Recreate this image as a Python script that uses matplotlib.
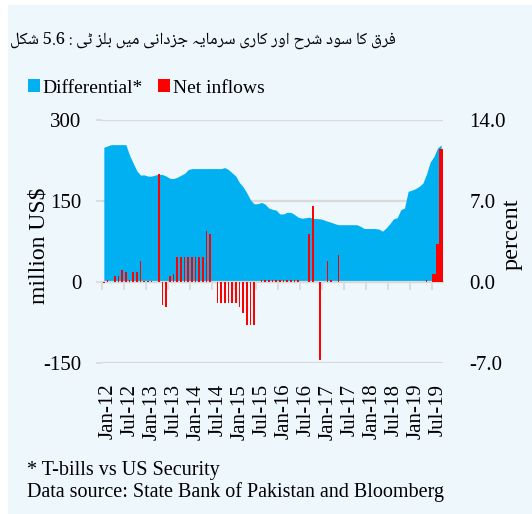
import numpy as np
import matplotlib
matplotlib.use("Agg")
import matplotlib.pyplot as plt
from matplotlib.patches import Patch, Rectangle

# ---------------- data ----------------
# monthly, Jan-2012 .. Sep-2019 (93 months)
differential = [
    11.64, 11.76, 11.87, 11.87, 11.87, 11.87, 11.87, 10.97, 10.27, 9.61, 9.24, 9.26,   # 2012
    9.15, 9.15, 9.24, 9.31, 9.29, 9.15, 8.96, 8.94, 9.05, 9.22, 9.38, 9.71,            # 2013
    9.80, 9.80, 9.80, 9.80, 9.80, 9.80, 9.80, 9.80, 9.80, 9.89, 9.71, 9.43,            # 2014
    9.15, 8.59, 8.21, 7.70, 7.09, 6.75, 6.77, 6.88, 6.72, 6.39, 6.28, 6.21,            # 2015
    5.88, 5.88, 6.02, 6.02, 5.83, 5.60, 5.51, 5.55, 5.60, 5.49, 5.48, 5.46,            # 2016
    5.37, 5.25, 5.16, 5.04, 4.95, 4.95, 4.95, 4.95, 4.95, 4.95, 4.81, 4.62,            # 2017
    4.62, 4.62, 4.62, 4.57, 4.39, 4.67, 5.04, 5.46, 5.55, 6.25, 6.39, 7.84,            # 2018
    7.93, 8.07, 8.26, 8.54, 9.33, 10.36, 10.83, 11.57, 11.85,                          # 2019
]
net_inflows = [
    -1, 4, 0, 12, 12, 23, 19, 4, 19, 19, 39, 1,                 # 2012
    1, 1, 0, 200, -43, -47, 12, 15, 47, 47, 47, 47,             # 2013
    47, 47, 47, 47, 94, 89, 0, -39, -39, -39, -39, -39,         # 2014
    -39, -47, -58, -79, -79, -79, 0, 4, 4, 4, 4, 4,             # 2015
    4, 4, 4, 4, 4, 4, 0, 0, 89, 141, 0, -145,                   # 2016
    0, 39, 4, 0, 50, 0, 0, 0, 0, 0, 0, 0,                       # 2017
    0, 0, 0, 0, 0, 0, 0, 0, 0, 0, 0, 0,                         # 2018
    0, 0, 0, 0, 4, 0, 15, 70, 246,                              # 2019
]
x_labels = ['Jan-12', 'Jul-12', 'Jan-13', 'Jul-13', 'Jan-14', 'Jul-14', 'Jan-15', 'Jul-15',
            'Jan-16', 'Jul-16', 'Jan-17', 'Jul-17', 'Jan-18', 'Jul-18', 'Jan-19', 'Jul-19']
left_ticks = [-150, 0, 150, 300]
right_ticks = [-7.0, 0.0, 7.0, 14.0]
series_names = ['Differential*', 'Net inflows']
title_words = ['شکل', '5.6', ':', 'ٹی', 'بلز', 'میں', 'جزدانی', 'سرمایہ', 'کاری', 'اور', 'شرح', 'سود', 'کا', 'فرق']
footnote = '* T-bills vs US Security'
source = 'Data source: State Bank of Pakistan and Bloomberg'

# ---------------- simple Arabic-script shaping (presentation forms) ----------------
FORMS = {
    'ا': ('\uFE8D', '\uFE8E', None, None),
    'ب': ('\uFE8F', '\uFE90', '\uFE91', '\uFE92'),
    'ٹ': ('\uFB66', '\uFB67', '\uFB68', '\uFB69'),
    'ج': ('\uFE9D', '\uFE9E', '\uFE9F', '\uFEA0'),
    'ح': ('\uFEA1', '\uFEA2', '\uFEA3', '\uFEA4'),
    'د': ('\uFEA9', '\uFEAA', None, None),
    'ر': ('\uFEAD', '\uFEAE', None, None),
    'ز': ('\uFEAF', '\uFEB0', None, None),
    'س': ('\uFEB1', '\uFEB2', '\uFEB3', '\uFEB4'),
    'ش': ('\uFEB5', '\uFEB6', '\uFEB7', '\uFEB8'),
    'ف': ('\uFED1', '\uFED2', '\uFED3', '\uFED4'),
    'ق': ('\uFED5', '\uFED6', '\uFED7', '\uFED8'),
    'ک': ('\uFB8E', '\uFB8F', '\uFB90', '\uFB91'),
    'ل': ('\uFEDD', '\uFEDE', '\uFEDF', '\uFEE0'),
    'م': ('\uFEE1', '\uFEE2', '\uFEE3', '\uFEE4'),
    'ن': ('\uFEE5', '\uFEE6', '\uFEE7', '\uFEE8'),
    'ں': ('\uFB9E', '\uFB9F', '\uFEE7', '\uFEE8'),
    'و': ('\uFEED', '\uFEEE', None, None),
    'ہ': ('\uFBA6', '\uFBA7', '\uFBA8', '\uFBA9'),
    'ی': ('\uFBFC', '\uFBFD', '\uFBFE', '\uFBFF'),
}


def shape_word(w):
    if not any(c in FORMS for c in w):
        return w
    out = []
    for k, c in enumerate(w):
        if c not in FORMS:
            out.append(c)
            continue
        prev_join = k > 0 and w[k - 1] in FORMS and FORMS[w[k - 1]][2] is not None
        next_join = (k < len(w) - 1 and w[k + 1] in FORMS and FORMS[c][2] is not None)
        iso, fin, ini, med = FORMS[c]
        if prev_join and next_join:
            out.append(med)
        elif prev_join:
            out.append(fin)
        elif next_join:
            out.append(ini)
        else:
            out.append(iso)
    return ''.join(reversed(out))


title_visual = ' '.join(shape_word(w) for w in title_words)

# ---------------- figure ----------------
plt.rcParams['font.family'] = ['Liberation Serif', 'DejaVu Serif']
W, H = 532, 514
BG = '#EEF7FC'
GRID = '#D9D9D9'
BLUE = '#00B0F0'
RED = '#FF0000'

fig = plt.figure(figsize=(W / 100, H / 100), dpi=100, facecolor='white')
fig.patches.append(Rectangle((8 / W, 0), 1 - 8 / W, 1 - 5 / H, transform=fig.transFigure,
                             facecolor=BG, edgecolor='none', zorder=-10))

ax_l, ax_r, ax_t, ax_b = 102, 443, 120, 363
rect = [ax_l / W, 1 - ax_b / H, (ax_r - ax_l) / W, (ax_b - ax_t) / H]
ax2 = fig.add_axes(rect)                 # area (percent, right scale) - bottom layer
ax = fig.add_axes(rect, sharex=ax2)      # bars (million US$, left scale) - top layer
ax2.patch.set_visible(False)
ax.patch.set_visible(False)

n = len(net_inflows)
x = np.arange(n)

# area on percent scale (right axis)
ax2.fill_between(x, 0, differential, color=BLUE, linewidth=0, zorder=2)
ax2.set_ylim(-7, 14)
ax2.set_yticks(right_ticks)
ax2.set_yticklabels([f'{v:.1f}' for v in right_ticks])
ax2.yaxis.tick_right()
ax2.yaxis.set_label_position('right')
ax2.tick_params(axis='y', length=0, pad=19, labelsize=15)
ax2.grid(axis='y', color=GRID, linewidth=1.6, zorder=0)
ax2.set_axisbelow(True)
for s in ax2.spines.values():
    s.set_visible(False)
ax2.tick_params(axis='x', length=0, labelbottom=False)
ax2.set_ylabel('percent', fontsize=17.5)
ax2.yaxis.set_label_coords((502 - ax_l) / (ax_r - ax_l), (ax_b - 234) / (ax_b - ax_t))

# bars on million US$ scale (left axis)
widths = np.full(n, 0.46)
widths[-3:] = 0.95
ax.bar(x, net_inflows, width=widths, color=RED, linewidth=0, zorder=3)
ax.set_ylim(-150, 300)
ax.set_xlim(-0.5, n - 0.5)
ax.set_yticks(left_ticks)
ax.set_yticklabels([str(v) for v in left_ticks])
ax.tick_params(axis='y', length=4, width=1.2, color=GRID, pad=11, labelsize=15)
ax.set_ylabel('million US$', fontsize=17)
ax.yaxis.set_label_coords((49 - ax_l) / (ax_r - ax_l), (ax_b - 246) / (ax_b - ax_t))
for side in ['left', 'right', 'top']:
    ax.spines[side].set_visible(False)
ax.spines['bottom'].set_position(('data', 0))
ax.spines['bottom'].set_color(GRID)
ax.spines['bottom'].set_linewidth(1.6)
ax.spines['bottom'].set_zorder(1)
ax.set_xticks(np.arange(-0.5, n, 6))
ax.tick_params(axis='x', length=6, width=1.2, color=GRID, labelbottom=False)

# category labels along the bottom
sec = ax.secondary_xaxis('bottom')
sec.set_xticks(np.arange(0, n, 6)[:len(x_labels)] + 1.2)
sec.set_xticklabels(x_labels, rotation=90, fontsize=15)
sec.tick_params(axis='x', length=0, pad=15)
sec.spines['bottom'].set_visible(False)

# legend
handles = [Patch(facecolor=BLUE, edgecolor='none'), Patch(facecolor=RED, edgecolor='none')]
fig.legend(handles, series_names, loc='center left', bbox_to_anchor=(28 / W, 1 - 88 / H),
           ncol=2, frameon=False, fontsize=14, handlelength=0.6, handleheight=0.6,
           handletextpad=0.15, columnspacing=0.8, borderaxespad=0, borderpad=0)

# title (Urdu), sized to span the same width as the reference
t = fig.text(396 / W, 1 - 40 / H, title_visual, ha='right', va='center', fontsize=17,
             fontweight='bold', family=['Noto Naskh Arabic', 'DejaVu Sans', 'Noto Kufi Arabic'])
renderer = fig.canvas.get_renderer()
tw = t.get_window_extent(renderer).width
t.set_fontsize(17 * 388 / tw)

# notes
fig.text(27 / W, 1 - 471 / H, footnote, ha='left', va='center', fontsize=14.5)
fig.text(27 / W, 1 - 492 / H, source, ha='left', va='center', fontsize=14.5)

fig.savefig('out.png', dpi=100, facecolor=fig.get_facecolor())
